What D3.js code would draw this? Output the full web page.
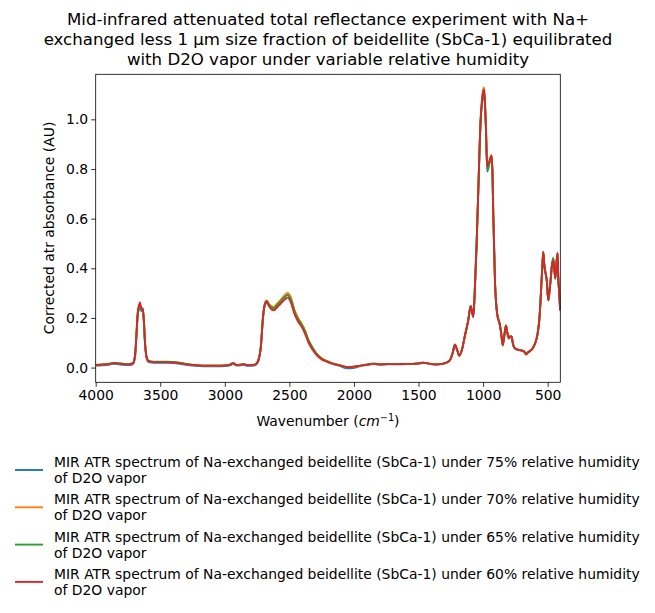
<!DOCTYPE html>
<html><head><meta charset="utf-8">
<script src="https://cdn.jsdelivr.net/npm/d3@7"></script>
<style>body{margin:0;background:#fff}svg text{font-family:"DejaVu Sans",sans-serif;fill:#000}</style>
</head><body><svg id="c" width="655" height="613"></svg>
<script>
const titleLines = ["Mid-infrared attenuated total reflectance experiment with Na+",
  "exchanged less 1 µm size fraction of beidellite (SbCa-1) equilibrated",
  "with D2O vapor under variable relative humidity"];
const seriesNames = [
  "MIR ATR spectrum of Na-exchanged beidellite (SbCa-1) under 75% relative humidity of D2O vapor",
  "MIR ATR spectrum of Na-exchanged beidellite (SbCa-1) under 70% relative humidity of D2O vapor",
  "MIR ATR spectrum of Na-exchanged beidellite (SbCa-1) under 65% relative humidity of D2O vapor",
  "MIR ATR spectrum of Na-exchanged beidellite (SbCa-1) under 60% relative humidity of D2O vapor"];
const colors = ["#1f77b4","#ff7f0e","#2ca02c","#d62728"];
const xTicks = [4000,3500,3000,2500,2000,1500,1000,500];
const yTicks = [0.0,0.2,0.4,0.6,0.8,1.0];

const wavenumber = [4000,3950,3900,3860,3820,3780,3740,3710,3695,3685,3675,3665,3657,3648,3636,3628,3618,3605,3590,3550,
 3500,3450,3400,3350,3300,3250,3200,3150,3100,3050,3000,2960,2935,2910,2880,2850,2830,2790,2760,2740,
 2720,2705,2690,2675,2660,2640,2619,2600,2570,2540,2513,2490,2460,2430,2405,2380,2354,2320,2289,2250,
 2211,2160,2108,2050,2000,1950,1900,1850,1800,1750,1700,1650,1600,1550,1500,1463,1420,1380,1334,1290,
 1257,1235,1218,1200,1184,1165,1140,1115,1096,1076,1065,1050,1037,1019,1005,993,985,978,968,960,
 952,940,934,927,921,908,895,885,875,860,848,838,823,812,800,790,779,770,761,740,
 714,689,675,668,655,637,620,598,580,565,555,547,540,534,527,520,507,495,485,477,
 467,457,449,441,432,423,418,410,403];

const rh75 = [0.008,0.009,0.011,0.015,0.013,0.011,0.010,0.015,0.046,0.12,0.205,0.235,0.245,0.228,0.232,0.19,0.095,0.036,0.022,0.019,
 0.019,0.019,0.018,0.015,0.011,0.008,0.006,0.005,0.005,0.005,0.006,0.009,0.015,0.008,0.009,0.011,0.007,0.007,0.011,0.027,
 0.088,0.195,0.25,0.262,0.252,0.244,0.240,0.250,0.268,0.283,0.293,0.278,0.228,0.195,0.175,0.148,0.112,0.080,0.055,0.036,
 0.025,0.014,0.006,-0.003,-0.001,0.006,0.010,0.014,0.012,0.013,0.013,0.013,0.014,0.014,0.016,0.019,0.015,0.012,0.013,0.018,
 0.029,0.059,0.091,0.069,0.047,0.069,0.129,0.189,0.247,0.204,0.298,0.498,0.712,0.99,1.08,1.11,1.05,0.96,0.79,0.80,
 0.82,0.845,0.85,0.775,0.615,0.348,0.233,0.198,0.183,0.139,0.089,0.119,0.169,0.139,0.117,0.125,0.124,0.099,0.082,0.073,
 0.069,0.066,0.059,0.053,0.059,0.066,0.074,0.096,0.129,0.189,0.268,0.35,0.418,0.463,0.418,0.39,0.35,0.27,0.31,0.35,
 0.41,0.435,0.4,0.358,0.418,0.46,0.363,0.298,0.23];

const rh70 = [0.011,0.012,0.014,0.018,0.016,0.014,0.013,0.018,0.05,0.128,0.215,0.245,0.255,0.238,0.236,0.198,0.1,0.04,0.026,0.022,
 0.022,0.022,0.021,0.018,0.014,0.011,0.009,0.008,0.008,0.008,0.009,0.012,0.018,0.011,0.012,0.014,0.01,0.01,0.014,0.031,
 0.092,0.2,0.258,0.27,0.258,0.248,0.245,0.255,0.272,0.29,0.301,0.285,0.232,0.198,0.177,0.15,0.113,0.080,0.056,0.037,
 0.027,0.016,0.009,0.002,0.004,0.008,0.012,0.016,0.013,0.014,0.014,0.014,0.015,0.015,0.017,0.02,0.016,0.013,0.014,0.019,
 0.03,0.06,0.093,0.07,0.048,0.07,0.13,0.19,0.249,0.206,0.302,0.502,0.718,1.0,1.1,1.13,1.07,0.975,0.80,0.815,
 0.83,0.85,0.856,0.78,0.62,0.35,0.235,0.2,0.185,0.14,0.09,0.12,0.17,0.14,0.118,0.126,0.125,0.1,0.083,0.074,
 0.07,0.067,0.06,0.054,0.06,0.067,0.075,0.097,0.13,0.19,0.27,0.352,0.42,0.466,0.42,0.392,0.352,0.271,0.31,0.352,
 0.41,0.438,0.402,0.36,0.42,0.462,0.365,0.3,0.231];

const rh65 = [0.011,0.013,0.015,0.019,0.017,0.015,0.014,0.019,0.05,0.128,0.214,0.244,0.255,0.237,0.236,0.197,0.1,0.041,0.028,0.024,
 0.024,0.024,0.023,0.02,0.015,0.012,0.009,0.008,0.008,0.008,0.009,0.012,0.018,0.011,0.012,0.014,0.01,0.01,0.014,0.03,
 0.09,0.198,0.256,0.268,0.255,0.243,0.240,0.250,0.266,0.283,0.292,0.277,0.226,0.193,0.174,0.148,0.112,0.079,0.055,0.036,
 0.026,0.016,0.009,0.001,0.004,0.008,0.012,0.016,0.013,0.014,0.014,0.014,0.015,0.015,0.017,0.02,0.016,0.013,0.014,0.019,
 0.03,0.06,0.092,0.07,0.048,0.07,0.13,0.19,0.248,0.205,0.3,0.5,0.715,0.997,1.09,1.12,1.06,0.97,0.795,0.81,
 0.825,0.848,0.853,0.778,0.618,0.35,0.235,0.2,0.185,0.14,0.09,0.12,0.17,0.14,0.118,0.126,0.125,0.1,0.083,0.074,
 0.07,0.067,0.06,0.054,0.06,0.067,0.075,0.097,0.13,0.19,0.27,0.352,0.42,0.465,0.42,0.392,0.352,0.272,0.312,0.355,
 0.415,0.443,0.405,0.36,0.42,0.46,0.365,0.3,0.231];

const rh60 = [0.011,0.012,0.014,0.018,0.016,0.014,0.013,0.018,0.05,0.13,0.22,0.25,0.262,0.24,0.238,0.2,0.1,0.04,0.026,0.022,
 0.022,0.022,0.021,0.018,0.014,0.011,0.009,0.008,0.008,0.008,0.009,0.012,0.018,0.011,0.012,0.014,0.01,0.01,0.014,0.03,
 0.09,0.2,0.255,0.266,0.25,0.235,0.231,0.24,0.256,0.272,0.282,0.265,0.215,0.183,0.164,0.138,0.103,0.072,0.05,0.033,
 0.024,0.015,0.009,0.002,0.004,0.008,0.012,0.016,0.013,0.014,0.014,0.014,0.015,0.015,0.017,0.02,0.016,0.013,0.014,0.019,
 0.03,0.06,0.092,0.07,0.048,0.07,0.13,0.19,0.248,0.205,0.3,0.5,0.715,0.997,1.09,1.12,1.06,0.97,0.81,0.82,
 0.83,0.85,0.855,0.78,0.62,0.35,0.235,0.2,0.185,0.14,0.09,0.12,0.17,0.14,0.118,0.126,0.125,0.1,0.083,0.074,
 0.07,0.067,0.06,0.054,0.06,0.067,0.075,0.097,0.13,0.19,0.27,0.352,0.42,0.466,0.42,0.392,0.352,0.271,0.31,0.352,
 0.41,0.433,0.4,0.359,0.42,0.462,0.365,0.3,0.231];

const series = [rh75, rh70, rh65, rh60];

const svg = d3.select("#c");
const L = 95.7, R = 560.3, T = 74.3, B = 382.3;
const x = d3.scaleLinear().domain([4000, 402]).range([L, R]);
const y = d3.scaleLinear().domain([-0.0593, 1.1815]).range([B, T]);
const FS = "13.9px";

// title
const tt = svg.append("text").attr("text-anchor","middle").attr("font-size","16.6px");
titleLines.forEach((s,i)=> tt.append("tspan").attr("x",328).attr("y",25+i*20).text(s));

svg.append("defs").append("clipPath").attr("id","cp").append("rect")
  .attr("x",L).attr("y",T).attr("width",R-L).attr("height",B-T);

const line = d3.line().x((d,i)=>x(wavenumber[i])).y(d=>y(d)).curve(d3.curveMonotoneX);
const g = svg.append("g").attr("clip-path","url(#cp)");
series.forEach((s,i)=> g.append("path").attr("d",line(s)).attr("fill","none")
  .attr("stroke",colors[i]).attr("stroke-width",1.9).attr("stroke-linejoin","round"));

// axes
const xa = svg.append("g").attr("transform",`translate(0,${B})`)
  .call(d3.axisBottom(x).tickValues(xTicks).tickFormat(d3.format("d")).tickSize(4.5).tickPadding(3));
const ya = svg.append("g").attr("transform",`translate(${L},0)`)
  .call(d3.axisLeft(y).tickValues(yTicks).tickFormat(d3.format(".1f")).tickSize(4.5).tickPadding(3));
[xa,ya].forEach(a=>{a.selectAll("text").attr("font-size",FS).attr("font-family","DejaVu Sans").attr("fill","#000");
  a.select(".domain").remove(); a.selectAll("line").attr("stroke","#000").attr("stroke-width",0.8);});
svg.append("rect").attr("x",L).attr("y",T).attr("width",R-L).attr("height",B-T)
  .attr("fill","none").attr("stroke","#000").attr("stroke-width",0.8);

// axis labels
const xl = svg.append("text").attr("x",328).attr("y",426).attr("text-anchor","middle").attr("font-size",FS);
xl.append("tspan").text("Wavenumber (");
xl.append("tspan").attr("font-style","italic").text("cm");
xl.append("tspan").attr("font-size","9.7px").attr("dy",-5.5).text("−1");
xl.append("tspan").attr("dy",5.5).text(")");
svg.append("text").attr("transform","translate(54,228) rotate(-90)").attr("text-anchor","middle")
  .attr("font-size",FS).text("Corrected atr absorbance (AU)");

// legend
const lg = svg.append("g");
seriesNames.forEach((name,i)=>{
  const cy = 470 + i*37.3;
  lg.append("line").attr("x1",15).attr("x2",43).attr("y1",cy).attr("y2",cy)
    .attr("stroke",colors[i]).attr("stroke-width",1.9);
  const k = name.lastIndexOf(" of D2O");
  const t = lg.append("text").attr("font-size",FS);
  t.append("tspan").attr("x",54).attr("y",cy-3).text(name.slice(0,k));
  t.append("tspan").attr("x",54).attr("y",cy+13).text(name.slice(k+1));
});
</script></body></html>
